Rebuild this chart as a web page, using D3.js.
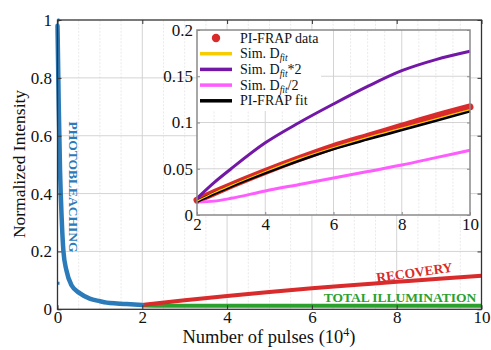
<!DOCTYPE html>
<html>
<head>
<meta charset="utf-8">
<script src="https://cdn.jsdelivr.net/npm/d3@7"></script>
<style>
body { margin: 0; background: #fff; }
text { font-family: "Liberation Serif", "Times New Roman", serif; }
</style>
</head>
<body>
<svg id="chart" width="491" height="350"></svg>
<script>
// photobleaching curve (pulses in 10^4, normalized intensity)
const bleachX = [0, 0.03, 0.06, 0.1, 0.14, 0.21, 0.33, 0.53, 0.76, 1.0, 1.16, 1.4, 1.63, 2.0]
const bleachY = [0.98, 0.7, 0.48, 0.31, 0.2, 0.135, 0.083, 0.055, 0.037, 0.028, 0.023, 0.02, 0.018, 0.015]
// loose points sitting on the first pulse column
const bleachColumnY = [1.0, 0.93, 0.89, 0.85, 0.82, 0.8, 0.78, 0.75, 0.72, 0.69, 0.66, 0.64, 0.62, 0.6, 0.57, 0.55, 0.52, 0.09]

// recovery / illumination, main panel
const phaseX = [2, 3, 4, 5, 6, 7, 8, 9, 10]
const recoveryY = [0.015, 0.031, 0.046, 0.06, 0.073, 0.084, 0.095, 0.106, 0.116]
const totalIllumY = [0.013, 0.012, 0.012, 0.012, 0.012, 0.012, 0.012, 0.012, 0.012]

// inset
const insetX = [2, 2.5, 3, 4, 5, 6, 7, 8, 9, 10]
const frapData = [0.016, 0.024, 0.032, 0.047, 0.061, 0.074, 0.085, 0.096, 0.107, 0.117]
const simFit = [0.015, 0.024, 0.032, 0.047, 0.061, 0.073, 0.084, 0.094, 0.104, 0.114]
const simFit2 = [0.018, 0.035, 0.05, 0.078, 0.1, 0.12, 0.139, 0.156, 0.168, 0.177]
const simFitHalf = [0.014, 0.015, 0.018, 0.026, 0.033, 0.04, 0.047, 0.054, 0.062, 0.07]
const frapFit = [0.0145, 0.023, 0.031, 0.0455, 0.059, 0.0715, 0.082, 0.092, 0.102, 0.1125]

const mainXTicks = [0, 2, 4, 6, 8, 10]
const mainXMinor = [0.5, 1, 1.5, 2.5, 3, 3.5, 4.5, 5, 5.5, 6.5, 7, 7.5, 8.5, 9, 9.5]
const mainYTicks = [0, 0.2, 0.4, 0.6, 0.8, 1]
const insetXTicks = [2, 4, 6, 8, 10]
const insetXMinor = [2.5, 3, 3.5, 4.5, 5, 5.5, 6.5, 7, 7.5, 8.5, 9, 9.5]
const insetYTicks = [0, 0.05, 0.1, 0.15, 0.2]

const colors = {
    blue: '#2b7bba',
    red: '#d92b2b',
    green: '#2ca02c',
    yellow: '#f7cc00',
    purple: '#7217a6',
    pink: '#ff5cff',
    black: '#000'
}

const svg = d3.select('#chart')

// ---------- main panel ----------
const x = d3.scaleLinear().domain([0, 10]).range([57.5, 481.5])
const y = d3.scaleLinear().domain([0, 1]).range([309.3, 20])

const main = svg.append('g')

// grid
main.append('g').selectAll('line').data(mainXMinor).join('line')
    .attr('x1', d => x(d)).attr('x2', d => x(d))
    .attr('y1', y(0)).attr('y2', y(1))
    .attr('stroke', '#e4e4e4').attr('stroke-dasharray', '2,1.5').attr('stroke-width', 0.8)
main.append('g').selectAll('line').data(mainXTicks.slice(1, -1)).join('line')
    .attr('x1', d => x(d)).attr('x2', d => x(d))
    .attr('y1', y(0)).attr('y2', y(1))
    .attr('stroke', '#cfcfcf').attr('stroke-width', 0.9)
main.append('g').selectAll('line').data(mainYTicks.slice(1, -1)).join('line')
    .attr('x1', x(0)).attr('x2', x(10))
    .attr('y1', d => y(d)).attr('y2', d => y(d))
    .attr('stroke', '#cfcfcf').attr('stroke-width', 0.9)

const line = (xs, sx, sy) => d3.line()
    .x((d, i) => sx(xs[i]))
    .y(d => sy(d))
    .curve(d3.curveMonotoneX)

// data
main.append('path').datum(totalIllumY)
    .attr('d', line(phaseX, x, y))
    .attr('fill', 'none').attr('stroke', colors.green).attr('stroke-width', 4)
main.append('path').datum(recoveryY)
    .attr('d', line(phaseX, x, y))
    .attr('fill', 'none').attr('stroke', colors.red).attr('stroke-width', 4)
main.append('path').datum(bleachY)
    .attr('d', line(bleachX, x, y))
    .attr('fill', 'none').attr('stroke', colors.blue).attr('stroke-width', 4.5)
    .attr('stroke-linejoin', 'round').attr('stroke-linecap', 'round')
main.append('g').selectAll('rect').data(bleachColumnY).join('rect')
    .attr('x', x(0)).attr('y', d => y(d) - 1.5)
    .attr('width', 2).attr('height', 3)
    .attr('fill', colors.blue)

// frame + ticks
main.append('rect')
    .attr('x', x(0)).attr('y', y(1))
    .attr('width', x(10) - x(0)).attr('height', y(0) - y(1))
    .attr('fill', 'none').attr('stroke', '#333').attr('stroke-width', 1.3)

const axisStyle = g => {
    g.select('.domain').remove()
    g.selectAll('.tick line').attr('stroke', '#333')
    g.selectAll('.tick text').attr('fill', '#111').style('font-size', '17px')
}

main.append('g').attr('transform', `translate(0,${y(0)})`)
    .call(d3.axisBottom(x).tickValues(mainXTicks).tickFormat(d3.format('~g')).tickSize(-4).tickPadding(2))
    .call(axisStyle)
main.append('g').attr('transform', `translate(0,${y(1)})`)
    .call(d3.axisTop(x).tickValues(mainXTicks).tickFormat('').tickSize(-4))
    .call(axisStyle)
main.append('g').attr('transform', `translate(${x(0)},0)`)
    .call(d3.axisLeft(y).tickValues(mainYTicks).tickFormat(d3.format('~g')).tickSize(-4).tickPadding(5.5))
    .call(axisStyle)
main.append('g').attr('transform', `translate(${x(10)},0)`)
    .call(d3.axisRight(y).tickValues(mainYTicks).tickFormat('').tickSize(-4))
    .call(axisStyle)

// axis titles
svg.append('text')
    .attr('transform', 'translate(25,164) rotate(-90)')
    .attr('text-anchor', 'middle')
    .style('font-size', '17.5px').attr('fill', '#111')
    .text('Normalized Intensity')
const xt = svg.append('text')
    .attr('x', 269).attr('y', 343)
    .attr('text-anchor', 'middle')
    .style('font-size', '18.5px').attr('fill', '#111')
xt.append('tspan').text('Number of pulses (10')
xt.append('tspan').attr('dy', -7).style('font-size', '12px').text('4')
xt.append('tspan').attr('dy', 7).text(')')

// phase annotations
svg.append('text')
    .attr('transform', 'translate(68.5,187) rotate(90)')
    .attr('text-anchor', 'middle')
    .style('font-size', '13.5px').style('font-weight', 'bold')
    .attr('fill', colors.blue)
    .text('PHOTOBLEACHING')
svg.append('text')
    .attr('transform', 'translate(415,277) rotate(-8)')
    .attr('text-anchor', 'middle')
    .style('font-size', '13.5px').style('font-weight', 'bold')
    .attr('fill', colors.red)
    .text('RECOVERY')
svg.append('text')
    .attr('x', 400).attr('y', 301.5)
    .attr('text-anchor', 'middle')
    .style('font-size', '13.5px').style('font-weight', 'bold')
    .attr('fill', colors.green)
    .text('TOTAL ILLUMINATION')

// ---------- inset ----------
const ix = d3.scaleLinear().domain([2, 10]).range([197, 470])
const iy = d3.scaleLinear().domain([0, 0.2]).range([215, 30])

const inset = svg.append('g')
inset.append('rect')
    .attr('x', ix(2)).attr('y', iy(0.2))
    .attr('width', ix(10) - ix(2)).attr('height', iy(0) - iy(0.2))
    .attr('fill', '#fff')

inset.append('g').selectAll('line').data(insetXMinor).join('line')
    .attr('x1', d => ix(d)).attr('x2', d => ix(d))
    .attr('y1', iy(0)).attr('y2', iy(0.2))
    .attr('stroke', '#e4e4e4').attr('stroke-dasharray', '2,1.5').attr('stroke-width', 0.8)
inset.append('g').selectAll('line').data(insetXTicks.slice(1, -1)).join('line')
    .attr('x1', d => ix(d)).attr('x2', d => ix(d))
    .attr('y1', iy(0)).attr('y2', iy(0.2))
    .attr('stroke', '#cfcfcf').attr('stroke-width', 0.9)
inset.append('g').selectAll('line').data(insetYTicks.slice(1, -1)).join('line')
    .attr('x1', ix(2)).attr('x2', ix(10))
    .attr('y1', d => iy(d)).attr('y2', d => iy(d))
    .attr('stroke', '#cfcfcf').attr('stroke-width', 0.9)

// legend background hides the grid behind it
inset.append('rect')
    .attr('x', ix(2) + 1).attr('y', iy(0.2) + 1)
    .attr('width', 123).attr('height', 80)
    .attr('fill', '#fff')

inset.append('path').datum(frapData)
    .attr('d', line(insetX, ix, iy))
    .attr('fill', 'none').attr('stroke', colors.red).attr('stroke-width', 7)
    .attr('stroke-linecap', 'round')
const insetSeries = [
    { values: simFit2, color: colors.purple, w: 3 },
    { values: simFitHalf, color: colors.pink, w: 3 },
    { values: frapFit, color: colors.black, w: 3 },
    { values: simFit, color: colors.yellow, w: 1.2 }
]
inset.append('g').selectAll('path').data(insetSeries).join('path')
    .attr('d', d => line(insetX, ix, iy)(d.values))
    .attr('fill', 'none').attr('stroke', d => d.color).attr('stroke-width', d => d.w)

inset.append('rect')
    .attr('x', ix(2)).attr('y', iy(0.2))
    .attr('width', ix(10) - ix(2)).attr('height', iy(0) - iy(0.2))
    .attr('fill', 'none').attr('stroke', '#8a8a8a').attr('stroke-width', 1.5)

inset.append('g').attr('transform', `translate(0,${iy(0)})`)
    .call(d3.axisBottom(ix).tickValues(insetXTicks).tickFormat(d3.format('~g')).tickSize(-3).tickPadding(3))
    .call(axisStyle)
inset.append('g').attr('transform', `translate(${ix(2)},0)`)
    .call(d3.axisLeft(iy).tickValues(insetYTicks).tickFormat(d3.format('~g')).tickSize(-3).tickPadding(4))
    .call(axisStyle)
inset.append('g').attr('transform', `translate(${ix(10)},0)`)
    .call(d3.axisRight(iy).tickValues(insetYTicks).tickFormat('').tickSize(-3))
    .call(axisStyle)
inset.selectAll('.tick line').attr('stroke', '#8a8a8a')

// legend
const legendItems = [
    { label: 'PI-FRAP data', color: colors.red, type: 'dot' },
    { label: 'Sim. D', sub: 'fit', color: colors.yellow, type: 'line' },
    { label: 'Sim. D', sub: 'fit', after: '*2', color: colors.purple, type: 'line' },
    { label: 'Sim. D', sub: 'fit', after: '/2', color: colors.pink, type: 'line' },
    { label: 'PI-FRAP fit', color: colors.black, type: 'line' }
]
const legend = inset.append('g').attr('transform', 'translate(200,38)')
const row = legend.selectAll('g').data(legendItems).join('g')
    .attr('transform', (d, i) => `translate(0,${i * 15.7})`)
row.filter(d => d.type === 'line').append('line')
    .attr('x1', 0).attr('x2', 32).attr('y1', 0).attr('y2', 0)
    .attr('stroke', d => d.color).attr('stroke-width', 3.5)
row.filter(d => d.type === 'dot').append('circle')
    .attr('cx', 16).attr('cy', 0).attr('r', 4.2)
    .attr('fill', d => d.color)
const lt = row.append('text')
    .attr('x', 40).attr('y', 4.5)
    .style('font-size', '14px').attr('fill', '#111')
lt.append('tspan').text(d => d.label)
lt.filter(d => d.sub).append('tspan')
    .attr('dy', 3).style('font-size', '9.5px').style('font-style', 'italic')
    .text(d => d.sub)
lt.filter(d => d.after).append('tspan')
    .attr('dy', -3).text(d => d.after)
</script>
</body>
</html>
